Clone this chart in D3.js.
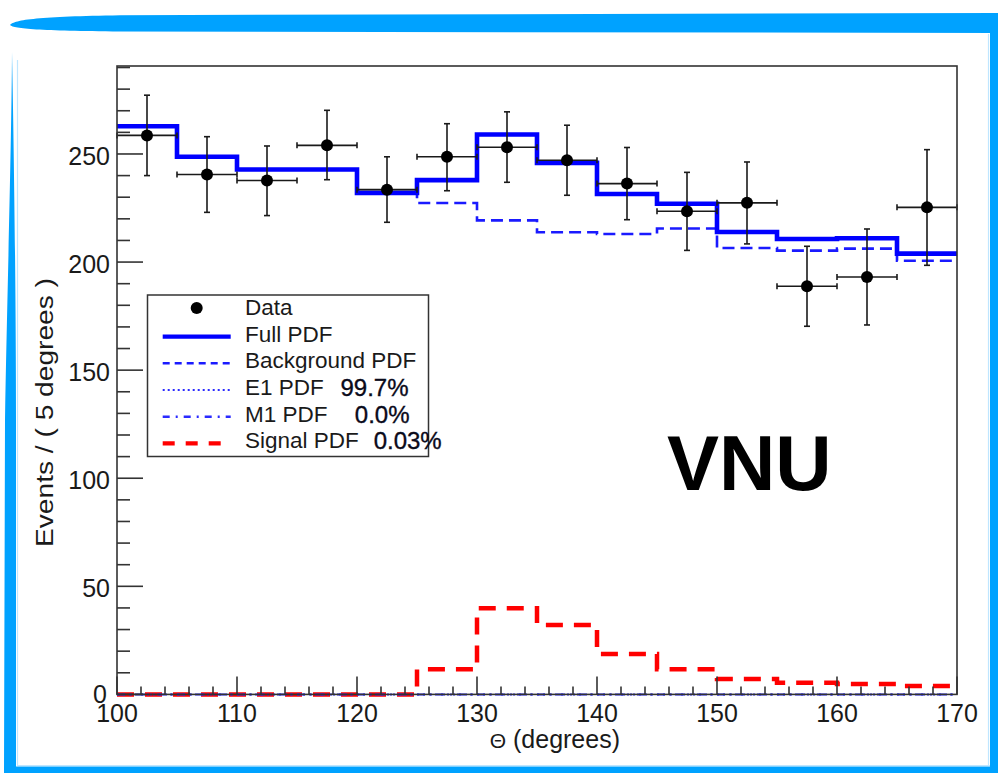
<!DOCTYPE html>
<html>
<head>
<meta charset="utf-8">
<script src="https://cdn.jsdelivr.net/npm/d3@7"></script>
<style>
  html, body { margin: 0; padding: 0; background: #ffffff; }
  svg { display: block; font-family: "Liberation Sans", Arial, Helvetica, sans-serif; }
</style>
</head>
<body>
<svg id="chart" width="998" height="773"></svg>
<script>
// ---- data: 5-degree bins of the opening angle ----
const binLow = [100, 105, 110, 115, 120, 125, 130, 135, 140, 145, 150, 155, 160, 165];
const binWidth = 5;
const dataEvents  = [258.6, 240.5, 237.7, 254.0, 233.5, 248.7, 253.1, 247.1, 236.3, 223.5, 227.4, 188.8, 193.1, 225.3];
const dataErrLow  = [18.6, 17.5, 16.2, 15.9, 15.1, 15.7, 16.2, 16.2, 16.7, 18.1, 19.0, 18.5, 22.2, 26.8];
const dataErrHigh = [18.6, 17.5, 16.0, 16.2, 15.2, 15.3, 16.4, 16.2, 16.7, 18.0, 18.9, 18.5, 22.2, 26.7];
const fullPdf       = [262.8, 248.7, 242.8, 242.8, 232.0, 237.9, 259.0, 245.9, 231.5, 227.0, 213.9, 210.7, 211.0, 203.9];
const backgroundPdf = [262.8, 248.7, 242.8, 242.8, 232.0, 227.3, 219.3, 213.8, 213.0, 215.5, 206.5, 205.3, 206.2, 200.6];
const e1Pdf         = [0, 0, 0, 0, 0, 0, 0, 0, 0, 0, 0, 0, 0, 0];
const m1Pdf         = [0, 0, 0, 0, 0, 0, 0, 0, 0, 0, 0, 0, 0, 0];
const signalPdf     = [0, 0, 0, 0, 0, 11.6, 39.9, 32.1, 18.7, 11.6, 7.1, 5.4, 4.8, 3.9];

const xTickValues = [100, 110, 120, 130, 140, 150, 160, 170];
const yTickValues = [0, 50, 100, 150, 200, 250];
const legendLabels    = ["Data", "Full PDF", "Background PDF", "E1 PDF", "M1 PDF", "Signal PDF"];
const legendFractions = ["", "", "", "99.7%", "0.0%", "0.03%"];
const xTitleSymbol = "\u0398";
const xTitleText = "(degrees)";
const yTitleText = "Events / ( 5 degrees )";
const stampText = "VNU";

// ---- layout ----
const svg = d3.select("#chart");
const frameBlue = "#00a2ff";
const ink = "#1a1a1a";
const plot = { left: 117, right: 957, top: 66, bottom: 694.4 };

const x = d3.scaleLinear().domain([100, 170]).range([plot.left, plot.right]);
const y = d3.scaleLinear().domain([0, 290.7]).range([plot.bottom, plot.top]);

// ---- decorative blue border ----
const deco = svg.append("g");
deco.append("path")
  .attr("d", "M10,25 C14,19.5 40,16.5 120,15.2 L998,13 L998,33 L120,31.5 C40,30.6 14,29 10,25 Z")
  .attr("fill", frameBlue);
deco.append("path")
  .attr("d", "M12,52 C11.5,150 7,300 5,420 L4,773 L16,773 L16,420 C16,300 14,150 12,52 Z")
  .attr("fill", frameBlue);
deco.append("rect").attr("x", 990).attr("y", 13).attr("width", 8).attr("height", 760).attr("fill", frameBlue);
deco.append("rect").attr("x", 4).attr("y", 766.5).attr("width", 994).attr("height", 6.5).attr("fill", frameBlue);
// soft inner edge
deco.append("line").attr("x1", 17.5).attr("x2", 17.5).attr("y1", 60).attr("y2", 766)
  .attr("stroke", "#bfe6ff").attr("stroke-width", 1.2);
deco.append("line").attr("x1", 18).attr("x2", 990).attr("y1", 765.5).attr("y2", 765.5)
  .attr("stroke", "#bfe6ff").attr("stroke-width", 1.2);
deco.append("line").attr("x1", 988.5).attr("x2", 988.5).attr("y1", 34).attr("y2", 766)
  .attr("stroke", "#bfe6ff").attr("stroke-width", 1.2);

// ---- step curves ----
function stepPoints(values) {
  const pts = binLow.map((b, i) => [b, values[i]]);
  pts.push([binLow[binLow.length - 1] + binWidth, values[values.length - 1]]);
  return pts;
}
const stepLine = d3.line().x(d => x(d[0])).y(d => y(d[1])).curve(d3.curveStepAfter);

const curves = svg.append("g");
curves.append("path").attr("d", stepLine(stepPoints(signalPdf)))
  .attr("fill", "none").attr("stroke", "#ff0000").attr("stroke-width", 4.5)
  .attr("stroke-dasharray", "17,11");
curves.append("path").attr("d", stepLine(stepPoints(e1Pdf)))
  .attr("fill", "none").attr("stroke", "#2a2aff").attr("stroke-width", 2)
  .attr("stroke-dasharray", "2,4");
curves.append("path").attr("d", stepLine(stepPoints(m1Pdf)))
  .attr("fill", "none").attr("stroke", "#2a2aff").attr("stroke-width", 2)
  .attr("stroke-dasharray", "8,5,2,5");
curves.append("path").attr("d", stepLine(stepPoints(backgroundPdf)))
  .attr("fill", "none").attr("stroke", "#1a1aff").attr("stroke-width", 2.6)
  .attr("stroke-dasharray", "12,6");
curves.append("path").attr("d", stepLine(stepPoints(fullPdf)))
  .attr("fill", "none").attr("stroke", "#0000ff").attr("stroke-width", 4.6);

// ---- data points with error bars ----
const pts = svg.append("g").attr("stroke", ink).attr("stroke-width", 1.6);
const cap = 3;
binLow.forEach((b, i) => {
  const cx = x(b + binWidth / 2);
  const cy = y(dataEvents[i]);
  const xl = x(b), xr = x(b + binWidth);
  const yt = y(dataEvents[i] + dataErrHigh[i]);
  const yb = y(dataEvents[i] - dataErrLow[i]);
  pts.append("line").attr("x1", xl).attr("x2", xr).attr("y1", cy).attr("y2", cy);
  pts.append("line").attr("x1", xl).attr("x2", xl).attr("y1", cy - cap).attr("y2", cy + cap);
  pts.append("line").attr("x1", xr).attr("x2", xr).attr("y1", cy - cap).attr("y2", cy + cap);
  pts.append("line").attr("x1", cx).attr("x2", cx).attr("y1", yt).attr("y2", yb);
  pts.append("line").attr("x1", cx - cap).attr("x2", cx + cap).attr("y1", yt).attr("y2", yt);
  pts.append("line").attr("x1", cx - cap).attr("x2", cx + cap).attr("y1", yb).attr("y2", yb);
  pts.append("circle").attr("cx", cx).attr("cy", cy).attr("r", 6).attr("fill", "#000").attr("stroke", "none");
});

// ---- frame and axes (ticks inside the frame) ----
const axes = svg.append("g").attr("stroke", "#333").attr("stroke-width", 1.6);
axes.append("rect").attr("x", plot.left).attr("y", plot.top)
  .attr("width", plot.right - plot.left).attr("height", plot.bottom - plot.top)
  .attr("fill", "none");

d3.range(100, 170.1, 2).forEach(v => {
  const major = xTickValues.includes(v);
  axes.append("line").attr("x1", x(v)).attr("x2", x(v))
    .attr("y1", plot.bottom).attr("y2", plot.bottom - (major ? 18 : 8));
});
d3.range(0, 291, 10).forEach(v => {
  const major = yTickValues.includes(v);
  axes.append("line").attr("y1", y(v)).attr("y2", y(v))
    .attr("x1", plot.left).attr("x2", plot.left + (major ? 26 : 13));
});

const labels = svg.append("g").attr("fill", ink);
xTickValues.forEach(v => {
  labels.append("text").attr("x", x(v)).attr("y", 722)
    .attr("text-anchor", "middle").attr("font-size", 25).text(v);
});
yTickValues.forEach(v => {
  labels.append("text").attr("x", v === 0 ? 107 : 110).attr("y", y(v) + (v === 0 ? 9 : 11))
    .attr("text-anchor", "end").attr("font-size", 25).text(v);
});

// axis titles
const xt = labels.append("text").attr("x", 620).attr("y", 748)
  .attr("text-anchor", "end").attr("font-size", 25);
xt.append("tspan").attr("font-size", 21).text(xTitleSymbol);
xt.append("tspan").text(" " + xTitleText);

labels.append("text")
  .attr("transform", "translate(53,412.5) rotate(-90)")
  .attr("text-anchor", "middle").attr("font-size", 23)
  .attr("textLength", 269).attr("lengthAdjust", "spacingAndGlyphs")
  .text(yTitleText);

// ---- legend ----
const leg = svg.append("g");
leg.append("rect").attr("x", 147.5).attr("y", 295).attr("width", 281).attr("height", 161.5)
  .attr("fill", "#fff").attr("stroke", "#333").attr("stroke-width", 1.5);
const rowBase = [315, 341.7, 368.3, 395, 421.7, 448.3];
const legStyles = [
  null,
  { stroke: "#0000ff", width: 4.2, dash: null },
  { stroke: "#1a1aff", width: 2.6, dash: "7,5" },
  { stroke: "#2a2aff", width: 2, dash: "2,3" },
  { stroke: "#2a2aff", width: 2.4, dash: "7,6,2,6" },
  { stroke: "#ff0000", width: 4.2, dash: "12,11" }
];
legendLabels.forEach((lab, i) => {
  const by = rowBase[i];
  const st = legStyles[i];
  if (st === null) {
    leg.append("circle").attr("cx", 196.7).attr("cy", by - 7).attr("r", 6).attr("fill", "#000");
  } else {
    const ln = leg.append("line").attr("x1", 162.7).attr("x2", 230.7)
      .attr("y1", by - 5).attr("y2", by - 5)
      .attr("stroke", st.stroke).attr("stroke-width", st.width);
    if (st.dash) ln.attr("stroke-dasharray", st.dash);
  }
  leg.append("text").attr("x", 245).attr("y", by).attr("font-size", 22.5)
    .attr("fill", ink).text(lab);
});
const fracRight = [0, 0, 0, 408.5, 409.5, 441.7];
legendFractions.forEach((f, i) => {
  if (!f) return;
  leg.append("text").attr("x", fracRight[i]).attr("y", rowBase[i] + 1)
    .attr("text-anchor", "end").attr("font-size", 24).attr("fill", "#0a0a1a")
    .attr("stroke", "#0a0a1a").attr("stroke-width", 0.35).text(f);
});

// ---- stamp ----
svg.append("text").attr("x", 667).attr("y", 490)
  .attr("font-size", 78).attr("font-weight", "bold").attr("fill", "#000")
  .text(stampText);
</script>
</body>
</html>
